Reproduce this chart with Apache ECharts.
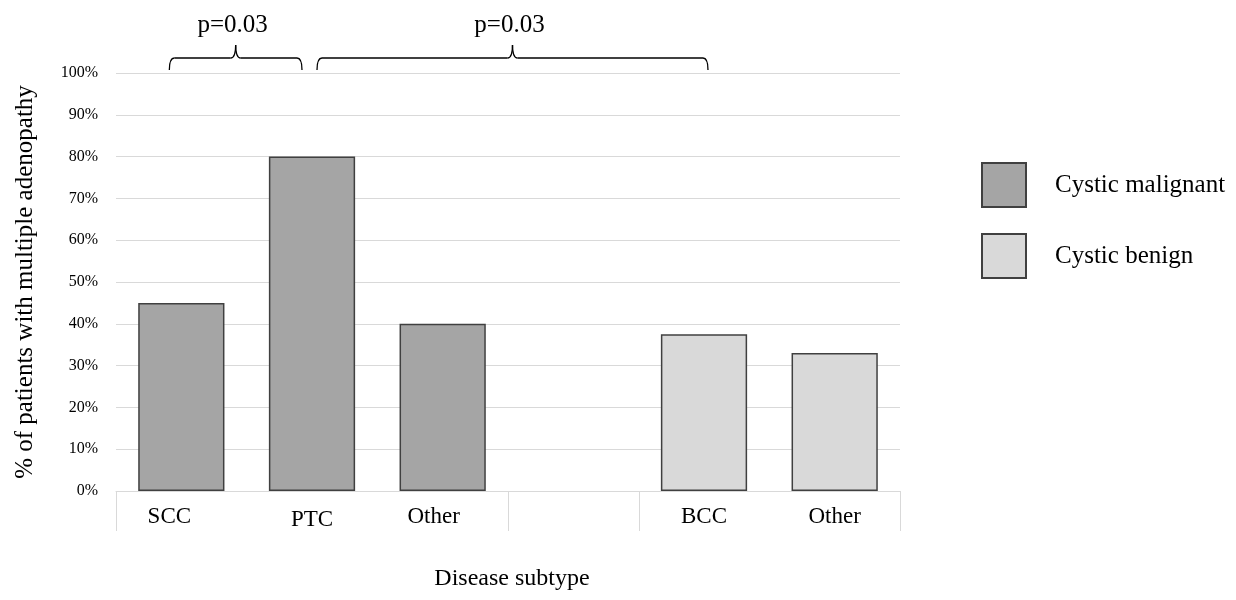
<!DOCTYPE html>
<html>
<head>
<meta charset="utf-8">
<script src="https://cdn.jsdelivr.net/npm/echarts@6/dist/echarts.min.js"></script>
<style>
html,body{margin:0;padding:0;background:#fff;}
#chart{width:1236px;height:600px;}
</style>
</head>
<body>
<div id="chart"></div>
<script>
// ---- data ----
var categories = ['SCC', 'PTC', 'Other', '', 'BCC', 'Other'];
var malignant = [45, 80, 40, null, null, null];
var benign = [null, null, null, null, 37.5, 33];
var seriesNames = ['Cystic malignant', 'Cystic benign'];
var yTicks = [0, 10, 20, 30, 40, 50, 60, 70, 80, 90, 100];
var groupBreaks = [0, 3, 4, 6];          // category boundaries with separator lines
var comparisons = [                      // significance braces between categories
  { from: 0, to: 1, text: 'p=0.03' },
  { from: 1, to: 4, text: 'p=0.03' }
];

var FONT = '"Liberation Serif", "Times New Roman", serif';
var chart = echarts.init(document.getElementById('chart'));

// label horizontal nudges (style only)
var labelShift = [-12, 0, -9, 0, 0, 0];
var labelDrop = [0, 3, 0, 0, 0, 0];
var xData = categories.map(function (c, i) {
  var s = labelShift[i], d = labelDrop[i];
  return {
    value: c,
    textStyle: { padding: [d, s < 0 ? -2 * s : 0, 0, s > 0 ? 2 * s : 0] }
  };
});

var option = {
  animation: false,
  backgroundColor: '#ffffff',
  textStyle: { fontFamily: FONT, color: '#000' },
  grid: { left: 116, right: 336, top: 73, bottom: 109, containLabel: false },
  legend: {
    orient: 'vertical',
    left: 976, top: 157,
    itemWidth: 44, itemHeight: 44, itemGap: 25,
    icon: 'rect',
    textStyle: { fontFamily: FONT, fontSize: 25, color: '#000', padding: [0, 0, 0, 24] },
    data: seriesNames
  },
  xAxis: {
    type: 'category',
    data: xData,
    boundaryGap: true,
    name: 'Disease subtype',
    nameLocation: 'middle',
    nameGap: 76,
    nameTextStyle: { fontFamily: FONT, fontSize: 24, color: '#000', padding: [0, 0, 0, 8] },
    axisLine: { show: true, lineStyle: { color: '#d9d9d9', width: 1 } },
    axisTick: { show: false },
    axisLabel: { fontFamily: FONT, fontSize: 23, color: '#000', margin: 14, interval: 0 },
    splitLine: { show: false }
  },
  yAxis: {
    type: 'value',
    min: 0, max: 100, interval: 10,
    name: '% of patients with multiple adenopathy',
    nameLocation: 'middle',
    nameGap: 78,
    nameTextStyle: { fontFamily: FONT, fontSize: 25, color: '#000' },
    axisLine: { show: false },
    axisTick: { show: false },
    axisLabel: {
      fontFamily: FONT, fontSize: 16, color: '#000', margin: 18,
      formatter: function (v) { return yTicks.indexOf(v) >= 0 ? v + '%' : ''; }
    },
    splitLine: { show: true, lineStyle: { color: '#d9d9d9', width: 1 } }
  },
  series: [
    {
      name: seriesNames[0], type: 'bar', stack: 'all', data: malignant,
      barWidth: '66%',
      itemStyle: { color: '#a5a5a5', borderColor: '#404040', borderWidth: 1.5 }
    },
    {
      name: seriesNames[1], type: 'bar', stack: 'all', data: benign,
      barWidth: '66%',
      itemStyle: { color: '#d9d9d9', borderColor: '#404040', borderWidth: 1.5 }
    }
  ]
};
chart.setOption(option);

function cx(i) { return chart.convertToPixel({ xAxisIndex: 0 }, i); }
function boundaryX(k) {
  var w = cx(1) - cx(0);
  return cx(0) + (k - 0.5) * w;
}
var y0 = chart.convertToPixel({ yAxisIndex: 0 }, 0);
var yTop = chart.convertToPixel({ yAxisIndex: 0 }, 100);

var graphics = [];
// separator lines below axis
groupBreaks.forEach(function (k) {
  var x = Math.round(boundaryX(k)) + 0.5;
  graphics.push({
    type: 'line', silent: true,
    shape: { x1: x, y1: y0, x2: x, y2: y0 + 40 },
    style: { stroke: '#d9d9d9', lineWidth: 1 }
  });
});
// braces
var insets = [[-12, -10], [5, 4]];
var braceStyle = { stroke: '#000', lineWidth: 1.3, fill: null };
comparisons.forEach(function (c, idx) {
  var x1 = cx(c.from) + insets[idx][0];
  var x2 = cx(c.to) + insets[idx][1];
  var xm = (x1 + x2) / 2;
  var yEnd = yTop - 3, yMid = yTop - 15, yPeak = yTop - 28, r = 5;
  var parts = [
    { type: 'bezierCurve', shape: { x1: x1, y1: yEnd, cpx1: x1, cpy1: yMid, x2: x1 + r, y2: yMid } },
    { type: 'line', shape: { x1: x1 + r, y1: yMid, x2: xm - r, y2: yMid } },
    { type: 'bezierCurve', shape: { x1: xm - r, y1: yMid, cpx1: xm, cpy1: yMid, x2: xm, y2: yPeak } },
    { type: 'bezierCurve', shape: { x1: xm, y1: yPeak, cpx1: xm, cpy1: yMid, x2: xm + r, y2: yMid } },
    { type: 'line', shape: { x1: xm + r, y1: yMid, x2: x2 - r, y2: yMid } },
    { type: 'bezierCurve', shape: { x1: x2 - r, y1: yMid, cpx1: x2, cpy1: yMid, x2: x2, y2: yEnd } }
  ];
  parts.forEach(function (p) {
    p.silent = true;
    p.style = braceStyle;
    graphics.push(p);
  });
  graphics.push({
    type: 'text', silent: true,
    x: xm - 3, y: yTop - 48,
    style: { text: c.text, font: '25px ' + FONT, fill: '#000', align: 'center', verticalAlign: 'middle' }
  });
});
chart.setOption({ graphic: graphics });
</script>
</body>
</html>
